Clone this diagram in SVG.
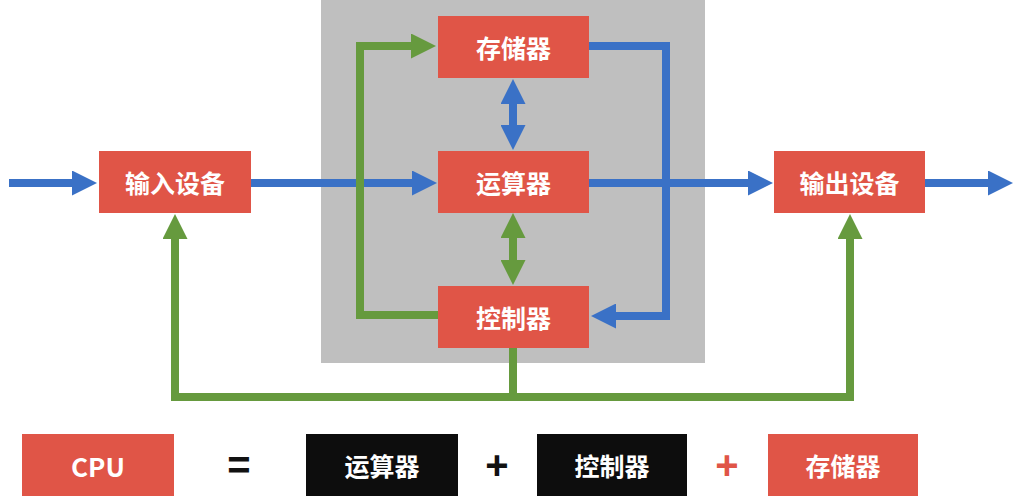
<svg xmlns="http://www.w3.org/2000/svg" width="1028" height="502" viewBox="0 0 1028 502">
<style>
.box{fill:#E05547}
.dark{fill:#0D0D0D}
.lbl{fill:#fff;font-family:"Noto Sans CJK SC","Liberation Sans",sans-serif;font-weight:bold;font-size:25px;text-anchor:middle;dominant-baseline:central}
.blue{fill:none;stroke:#3A71C6;stroke-width:8;stroke-linejoin:miter}
.green{fill:none;stroke:#669A3E;stroke-width:8;stroke-linejoin:miter}
.op{font-family:"Liberation Sans",sans-serif;font-weight:bold;font-size:40px;text-anchor:middle;dominant-baseline:central}
</style>
<defs>
<marker id="hb" markerUnits="userSpaceOnUse" markerWidth="25" markerHeight="25" refX="2" refY="12.5" orient="auto-start-reverse"><path d="M0,0 L25,12.5 L0,25 z" fill="#3A71C6"/></marker>
<marker id="hg" markerUnits="userSpaceOnUse" markerWidth="25" markerHeight="25" refX="2" refY="12.5" orient="auto-start-reverse"><path d="M0,0 L25,12.5 L0,25 z" fill="#669A3E"/></marker>
</defs>
<rect x="0" y="0" width="1028" height="502" fill="#fff"/>
<rect id="cpu-area" x="321" y="0" width="384" height="363" fill="#BFBFBF"/>
<g id="connectors">
<path class="blue" d="M9,183 H74" marker-end="url(#hb)"/>
<path class="blue" d="M251,183 H414" marker-end="url(#hb)"/>
<path class="blue" d="M589,183 H750" marker-end="url(#hb)"/>
<path class="blue" d="M925,183 H990" marker-end="url(#hb)"/>
<path class="blue" d="M589,46 H666 V316 H614" marker-end="url(#hb)"/>
<path class="blue" d="M513,102 V127" marker-start="url(#hb)" marker-end="url(#hb)"/>
<path class="green" d="M513,236 V262" marker-start="url(#hg)" marker-end="url(#hg)"/>
<path class="green" d="M438,315 H360 V46 H413" marker-end="url(#hg)"/>
<path class="green" d="M513,348 V397"/>
<path class="green" d="M175,237 V397 H850 V237" marker-start="url(#hg)" marker-end="url(#hg)"/>
</g>
<g id="input"><rect class="box" x="99" y="151" width="152" height="62"/><text class="lbl" x="175" y="182">输入设备</text></g>
<g id="storage"><rect class="box" x="438" y="16" width="151" height="62"/><text class="lbl" x="513.5" y="47">存储器</text></g>
<g id="alu"><rect class="box" x="438" y="151" width="151" height="62"/><text class="lbl" x="513.5" y="182">运算器</text></g>
<g id="control"><rect class="box" x="438" y="286" width="151" height="62"/><text class="lbl" x="513.5" y="317">控制器</text></g>
<g id="output"><rect class="box" x="774" y="151" width="151" height="62"/><text class="lbl" x="849.5" y="182">输出设备</text></g>
<g id="formula">
<g id="cpu"><rect class="box" x="22" y="434" width="152" height="62"/><text class="lbl" x="98" y="465" style="font-size:26px">CPU</text></g>
<text class="op" x="239" y="465" fill="#111">=</text>
<g id="f-alu"><rect class="dark" x="306" y="434" width="152" height="62"/><text class="lbl" x="382" y="465">运算器</text></g>
<text class="op" x="497" y="465" fill="#111">+</text>
<g id="f-control"><rect class="dark" x="537" y="434" width="150" height="62"/><text class="lbl" x="612" y="465">控制器</text></g>
<text class="op" x="727" y="465" fill="#E05547">+</text>
<g id="f-storage"><rect class="box" x="768" y="434" width="150" height="62"/><text class="lbl" x="843" y="465">存储器</text></g>
</g>
</svg>
